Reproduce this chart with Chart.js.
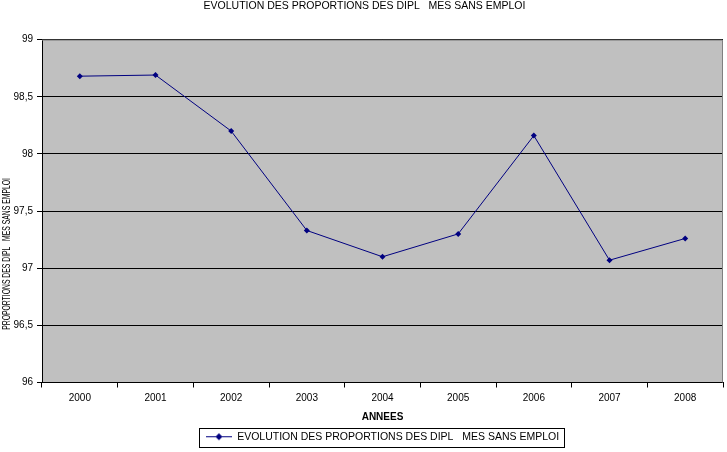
<!DOCTYPE html>
<html>
<head>
<meta charset="utf-8">
<script src="https://cdn.jsdelivr.net/npm/chart.js@4/dist/chart.umd.min.js"></script>
<style>
  body{margin:0;background:#fff;}
  #wrap{width:727px;height:452px;position:relative;}
</style>
</head>
<body>
<div id="wrap"><canvas id="lineChart"></canvas></div>
<script>
// data
var years=['2000','2001','2002','2003','2004','2005','2006','2007','2008'];
var proportions=[98.68,98.69,98.20,97.33,97.10,97.30,98.16,97.07,97.26];
var seriesName='EVOLUTION DES PROPORTIONS DES DIPL   MES SANS EMPLOI';
var yTitle='PROPORTIONS DES DIPL   MES SANS EMPLOI';

var lineColor='#000080';

// little legend symbol : line with a diamond
function legendSymbol(){
  var c=document.createElement('canvas');
  c.width=26;c.height=9;
  var g=c.getContext('2d');
  g.strokeStyle=lineColor;g.lineWidth=1;
  g.beginPath();g.moveTo(0,4.5);g.lineTo(26,4.5);g.stroke();
  g.fillStyle=lineColor;
  g.beginPath();g.moveTo(13,1);g.lineTo(16.5,4.5);g.lineTo(13,8);g.lineTo(9.5,4.5);g.closePath();g.fill();
  return c;
}

// grey plot area + border, y title, box round the legend
var plotBg={
  id:'plotBg',
  beforeDraw:function(chart){
    var a=chart.chartArea,ctx=chart.ctx;
    ctx.save();
    ctx.fillStyle='#C0C0C0';
    ctx.fillRect(a.left,a.top,a.right-a.left,a.bottom-a.top);
    ctx.restore();
  },
  afterDatasetsDraw:function(chart){
    var a=chart.chartArea,ctx=chart.ctx;
    ctx.save();
    ctx.strokeStyle='#808080';ctx.lineWidth=1;
    ctx.beginPath();
    ctx.moveTo(a.left,a.top+0.5);ctx.lineTo(a.right-0.5,a.top+0.5);ctx.lineTo(a.right-0.5,a.bottom);
    ctx.stroke();
    // y axis title, squeezed like the original
    ctx.translate(7,a.top+(a.bottom-a.top)*0.625);
    ctx.rotate(-Math.PI/2);
    ctx.scale(0.62,1);
    ctx.fillStyle='#000';
    ctx.font='11px "Liberation Sans"';
    ctx.textAlign='center';ctx.textBaseline='middle';
    ctx.fillText(yTitle,0,0);
    ctx.restore();
  },
  afterDraw:function(chart){
    var hb=chart.legend.legendHitBoxes[0];
    if(!hb)return;
    var ctx=chart.ctx;
    ctx.save();
    ctx.strokeStyle='#000';ctx.lineWidth=1;
    ctx.strokeRect(Math.round(hb.left)-6.5,Math.round(hb.top)-3.5,Math.round(hb.width)+12,Math.round(hb.height)+8);
    ctx.restore();
  }
};

var ctx=document.getElementById('lineChart').getContext('2d');
var myChart=new Chart(ctx,{
  type:'line',
  data:{
    labels:years,
    datasets:[{
      label:seriesName,
      data:proportions,
      borderColor:lineColor,
      backgroundColor:lineColor,
      borderWidth:1,
      pointStyle:'rectRot',
      pointRadius:3,
      pointBorderWidth:0,
      tension:0
    }]
  },
  options:{
    responsive:true,
    maintainAspectRatio:false,
    animation:false,
    devicePixelRatio:1,
    layout:{padding:{left:0,right:-2,top:0,bottom:0}},
    plugins:{
      title:{
        display:true,
        text:'EVOLUTION DES PROPORTIONS DES DIPL   MES SANS EMPLOI',
        color:'#000',
        font:{family:'Liberation Sans',size:10.5,weight:'normal'},
        padding:{top:0,bottom:27}
      },
      legend:{
        position:'bottom',
        fullSize:false,
        labels:{
          color:'#000',
          font:{family:'Liberation Sans',size:10.5},
          usePointStyle:true,
          pointStyleWidth:26,
          padding:5,
          generateLabels:function(chart){
            return [{text:seriesName,pointStyle:legendSymbol(),fillStyle:lineColor,strokeStyle:lineColor,lineWidth:0,datasetIndex:0}];
          }
        }
      },
      tooltip:{enabled:false}
    },
    scales:{
      x:{
        offset:true,
        grid:{display:true,offset:true,drawOnChartArea:false,drawTicks:true,tickLength:5,color:'#000'},
        border:{display:true,color:'#000'},
        ticks:{color:'#000',font:{family:'Liberation Sans',size:10},padding:5,maxRotation:0},
        title:{display:true,text:'ANNEES',color:'#000',font:{family:'Liberation Sans',size:10,weight:'bold'},padding:{top:2,bottom:3}}
      },
      y:{
        min:96,max:99,
        grid:{color:'#000',drawTicks:true,tickLength:5},
        border:{display:true,color:'#000'},
        ticks:{
          stepSize:0.5,color:'#000',font:{family:'Liberation Sans',size:10},padding:4,
          callback:function(v){return String(v).replace('.',',');}
        },
        afterFit:function(scale){scale.width=42;}
      }
    }
  },
  plugins:[plotBg]
});
</script>
</body>
</html>
